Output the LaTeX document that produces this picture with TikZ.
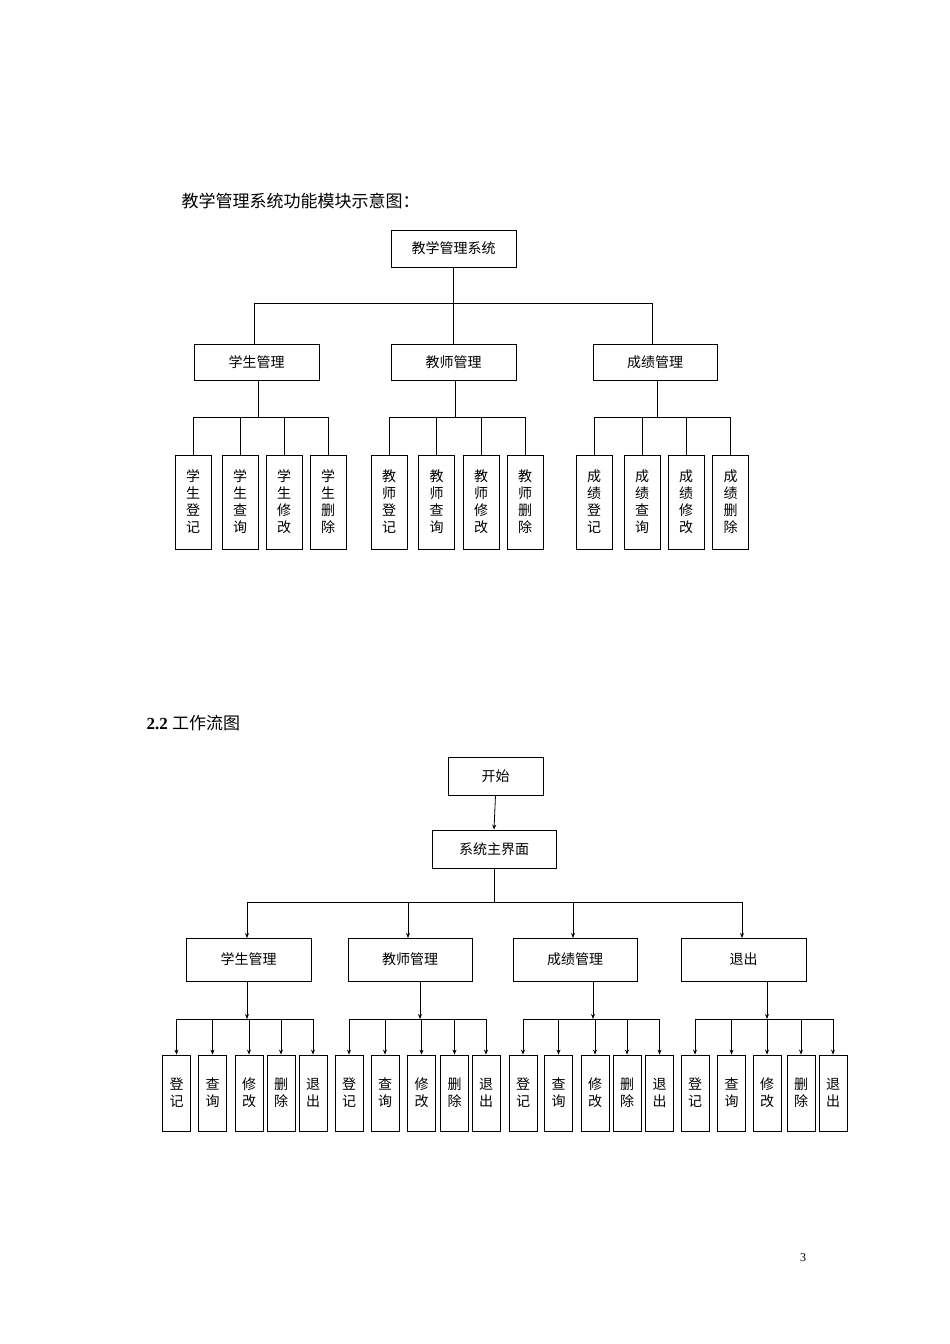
\documentclass[tikz,border=0pt]{standalone}
\usepackage{fontspec}
\newfontfamily\cjk{Noto Sans CJK SC}
\setmainfont{Liberation Serif}
\usetikzlibrary{arrows.meta}
\begin{document}
\begin{tikzpicture}[x=1pt,y=-1pt,
  bx/.style={draw,line width=0.8pt,inner sep=0pt,font=\cjk\fontsize{14}{17}\selectfont,align=center},
  ln/.style={line width=0.8pt},
  ar/.style={line width=0.8pt,-{Stealth[length=5pt,width=4pt]}}]
\useasboundingbox (0,0) rectangle (950,1344);
\node[anchor=west,font=\cjk\fontsize{17}{20}\selectfont] (title) at (178,201) {教学管理系统功能模块示意图：};
% top
\node[bx,minimum width=125pt,minimum height=37pt] (root) at (453.5,248.5) {教学管理系统};
\node[bx,minimum width=125pt,minimum height=36pt] (m1) at (256.5,362) {学生管理};
\node[bx,minimum width=125pt,minimum height=36pt] (m2) at (453.5,362) {教师管理};
\node[bx,minimum width=124pt,minimum height=36pt] (m3) at (655,362) {成绩管理};
\coordinate (b0) at (453.5,303);
\draw[ln] (root.south) -- (b0);
\draw[ln] (254,303) -- (652,303);
\draw[ln] (254,303) -- (254,344);
\draw[ln] (b0) -- (m2.north);
\draw[ln] (652,303) -- (652,344);
\foreach \g/\px/\a/\b/\xs in {1/258/学/生/{193,240,284,328},2/455/教/师/{389,436.5,481,525},3/657/成/绩/{594,642,686,730.5}}{
  \draw[ln] (\px,380) -- (\px,418);
  \foreach \x/\c/\d [count=\i] in {{193}/登/记,{240}/查/询,{284}/修/改,{328}/删/除} {
    \pgfmathsetmacro{\xx}{{\xs}[\i-1]}
    \node[bx,minimum width=36pt,minimum height=94pt,text width=36pt] (t\g\i) at (\xx,502) {\a\\\b\\\c\\\d};
  }
  \draw[ln] (t\g1.north) -- ++(0,-37) -| (t\g4.north);
  \draw[ln] (t\g2.north) -- ++(0,-37);
  \draw[ln] (t\g3.north) -- ++(0,-37);
}
% bottom
\node[anchor=west,font=\fontsize{17}{20}\selectfont] (sec) at (143,723) {\textbf{2.2} {\cjk 工作流图}};
\node[bx,minimum width=95pt,minimum height=38pt] (start) at (495.5,776) {开始};
\node[bx,minimum width=124pt,minimum height=38pt] (main) at (494,849) {系统主界面};
\draw[ar] (start.south) -- (main.north);
\node[bx,minimum width=125pt,minimum height=43pt] (n1) at (248.5,959.5) {学生管理};
\node[bx,minimum width=124pt,minimum height=43pt] (n2) at (410,959.5) {教师管理};
\node[bx,minimum width=124pt,minimum height=43pt] (n3) at (575,959.5) {成绩管理};
\node[bx,minimum width=125pt,minimum height=43pt] (n4) at (743.5,959.5) {退出};
\coordinate (bb) at (494,902);
\draw[ln] (main.south) -- (bb);
\draw[ln] (247,902) -- (742,902);
\draw[ar] (247,902) -- (247,938);
\draw[ar] (408,902) -- (408,938);
\draw[ar] (573,902) -- (573,938);
\draw[ar] (742,902) -- (742,938);
\foreach \g/\px/\xs in {1/247/{176.5,212.5,249,281,313},2/420/{349,385,421.5,454.5,486},3/593/{523,558.5,595,627,659.5},4/767/{695,731.5,767,801,833}}{
  \draw[ar] (\px,981) -- (\px,1019);
  \foreach \c/\d [count=\i] in {登/记,查/询,修/改,删/除,退/出} {
    \pgfmathsetmacro{\xx}{{\xs}[\i-1]}
    \node[bx,minimum width=28pt,minimum height=76pt,text width=28pt] (l\g\i) at (\xx,1093) {\c\\\d};
  }
  \coordinate (c\g) at (\px,1019);
  \draw[ln] (l\g1.north |- c\g) -- (l\g5.north |- c\g);
  \foreach \i in {1,...,5}{\draw[ar] (l\g\i.north |- c\g) -- (l\g\i.north);}
}
\node[font=\fontsize{12}{14}\selectfont] (pg) at (803,1258) {3};
\end{tikzpicture}
\end{document}
